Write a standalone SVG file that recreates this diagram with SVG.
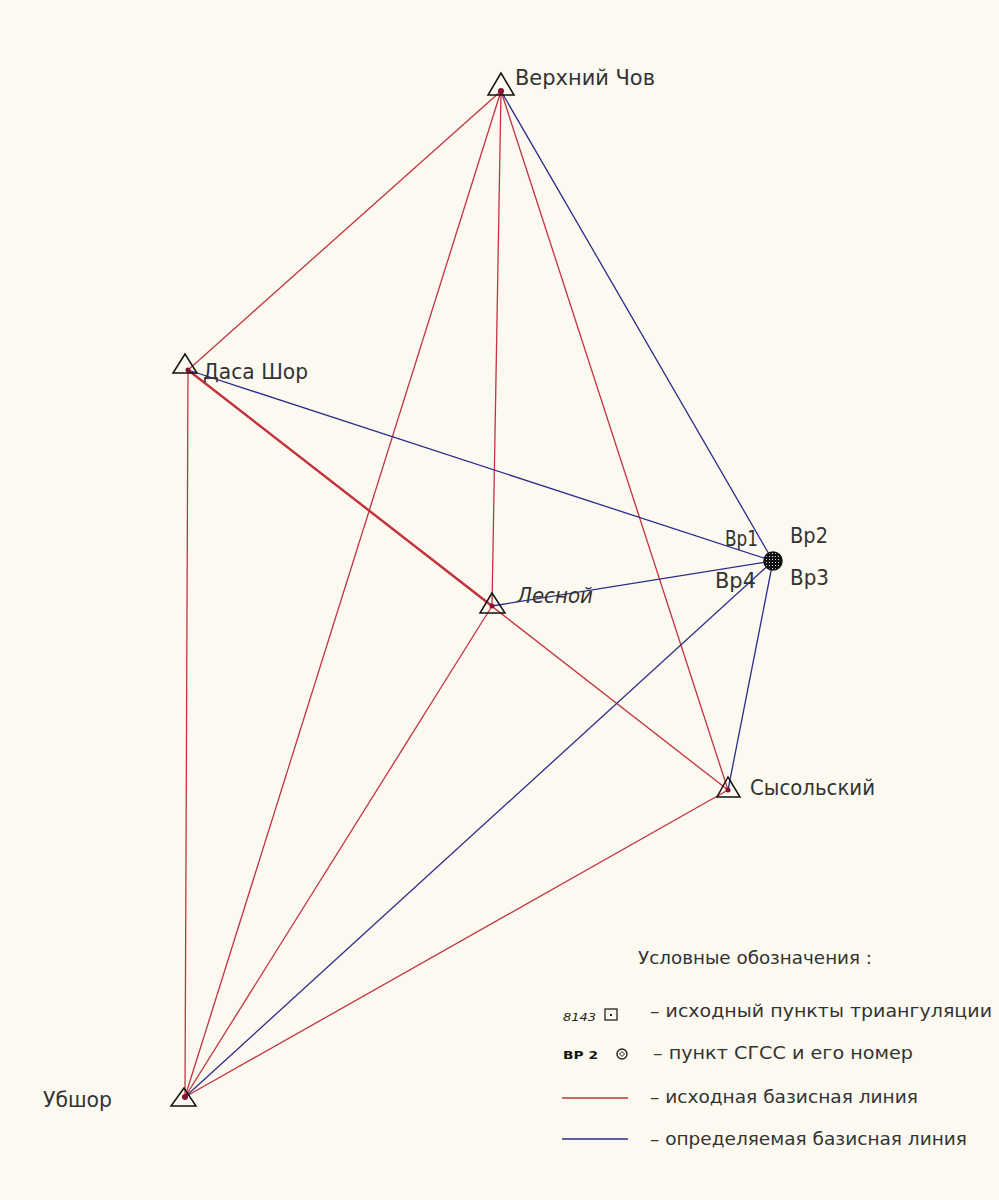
<svg xmlns="http://www.w3.org/2000/svg" width="999" height="1200" viewBox="0 0 999 1200">
<style>
.bg{fill:#fcfaf0}
.r{stroke:#c3323f;stroke-width:1.3;fill:none}
.b{stroke:#2c2c8c;stroke-width:1.3;fill:none}
.tri{fill:none;stroke:#111;stroke-width:1.5}
.dot{fill:#8a1030}
.lbl{font-family:"DejaVu Sans Condensed","DejaVu Sans",sans-serif;font-size:22px;fill:#333}
.leg{font-family:"DejaVu Sans Condensed","DejaVu Sans",sans-serif;font-size:18px;fill:#333}
</style>
<defs>
<pattern id="hatch" width="3" height="3" patternUnits="userSpaceOnUse">
<rect width="3" height="3" fill="#111"/>
<rect x="1" y="1" width="1" height="1" fill="#ddd"/>
</pattern>
</defs>
<rect class="bg" x="0" y="0" width="999" height="1200"/>
<g id="connectors">
<line class="r" x1="501" y1="91" x2="188" y2="370"/>
<line class="r" x1="501" y1="91" x2="492" y2="606"/>
<line class="r" x1="501" y1="91" x2="185" y2="1097"/>
<line class="r" x1="501" y1="91" x2="728" y2="790"/>
<line class="r" x1="188" y1="370" x2="185" y2="1097"/>
<line class="r" x1="188" y1="370" x2="728" y2="790"/>
<line class="r" x1="188" y1="370" x2="492" y2="606" style="stroke-width:2.4"/>
<line class="r" x1="492" y1="606" x2="185" y2="1097"/>
<line class="r" x1="728" y1="790" x2="185" y2="1097"/>
<line class="b" x1="501" y1="91" x2="773" y2="561"/>
<line class="b" x1="188" y1="370" x2="773" y2="561"/>
<line class="b" x1="492" y1="606" x2="773" y2="561"/>
<line class="b" x1="185" y1="1097" x2="773" y2="561"/>
<line class="b" x1="728" y1="790" x2="773" y2="561"/>
</g>
<g id="node-verkhniy-chov">
<circle class="dot" cx="501" cy="91" r="3"/>
<polygon class="tri" points="501,73 488,95 514,95"/>
<text class="lbl" x="515" y="85" textLength="140" lengthAdjust="spacingAndGlyphs">Верхний Чов</text>
</g>
<g id="node-dasa-shor">
<circle class="dot" cx="188" cy="370" r="2.5"/>
<polygon class="tri" points="185,354 173,373 197,373"/>
<text class="lbl" x="203" y="379" textLength="105" lengthAdjust="spacingAndGlyphs">Даса Шор</text>
</g>
<g id="node-lesnoy">
<circle class="dot" cx="492" cy="606" r="2.5"/>
<polygon class="tri" points="492,593 480,613 505,613"/>
<text class="lbl" x="517" y="603" font-style="italic" textLength="76" lengthAdjust="spacingAndGlyphs">Лесной</text>
</g>
<g id="node-sysolskiy">
<circle class="dot" cx="728" cy="790" r="2.5"/>
<polygon class="tri" points="728,777 717,797 740,797"/>
<text class="lbl" x="750" y="795" textLength="125" lengthAdjust="spacingAndGlyphs">Сысольский</text>
</g>
<g id="node-ubshor">
<circle class="dot" cx="185" cy="1097" r="3"/>
<polygon class="tri" points="184,1088 171,1106 196,1106"/>
<text class="lbl" x="43" y="1107" textLength="69" lengthAdjust="spacingAndGlyphs">Убшор</text>
</g>
<g id="node-bp">
<circle cx="773" cy="561" r="9" fill="url(#hatch)" stroke="#111" stroke-width="1.5"/>
<text class="lbl" x="725" y="546" textLength="33" lengthAdjust="spacingAndGlyphs">Bp1</text>
<text class="lbl" x="790" y="543" textLength="38" lengthAdjust="spacingAndGlyphs">Bp2</text>
<text class="lbl" x="790" y="585" textLength="39" lengthAdjust="spacingAndGlyphs">Bp3</text>
<text class="lbl" x="715" y="588" textLength="41" lengthAdjust="spacingAndGlyphs">Bp4</text>
</g>
<g id="legend">
<text class="leg" x="638" y="964" textLength="234" lengthAdjust="spacingAndGlyphs">Условные обозначения :</text>
<text x="563" y="1021" font-family="DejaVu Sans Condensed, DejaVu Sans, sans-serif" font-size="11" font-style="italic" fill="#222" textLength="33" lengthAdjust="spacingAndGlyphs">8143</text>
<rect x="605" y="1009" width="12" height="11" fill="none" stroke="#222" stroke-width="1.3"/>
<rect x="610" y="1014" width="2" height="2" fill="#222"/>
<text class="leg" x="650" y="1017" textLength="342" lengthAdjust="spacingAndGlyphs">– исходный пункты триангуляции</text>
<text x="563" y="1059" font-family="DejaVu Sans Condensed, DejaVu Sans, sans-serif" font-size="11" font-weight="bold" fill="#111" textLength="35" lengthAdjust="spacingAndGlyphs">ВР 2</text>
<circle cx="622" cy="1054" r="5" fill="none" stroke="#222" stroke-width="1.4"/>
<path d="M619.5,1054 L622,1051.5 L624.5,1054 L622,1056.5 Z" fill="none" stroke="#222" stroke-width="1"/>
<text class="leg" x="653" y="1059" textLength="260" lengthAdjust="spacingAndGlyphs">– пункт СГСС и его номер</text>
<line class="r" x1="562" y1="1098" x2="628" y2="1098" style="stroke-width:1.6"/>
<text class="leg" x="650" y="1103" textLength="268" lengthAdjust="spacingAndGlyphs">– исходная базисная линия</text>
<line class="b" x1="562" y1="1139" x2="628" y2="1139" style="stroke-width:1.6"/>
<text class="leg" x="650" y="1145" textLength="317" lengthAdjust="spacingAndGlyphs">– определяемая базисная линия</text>
</g>
</svg>
